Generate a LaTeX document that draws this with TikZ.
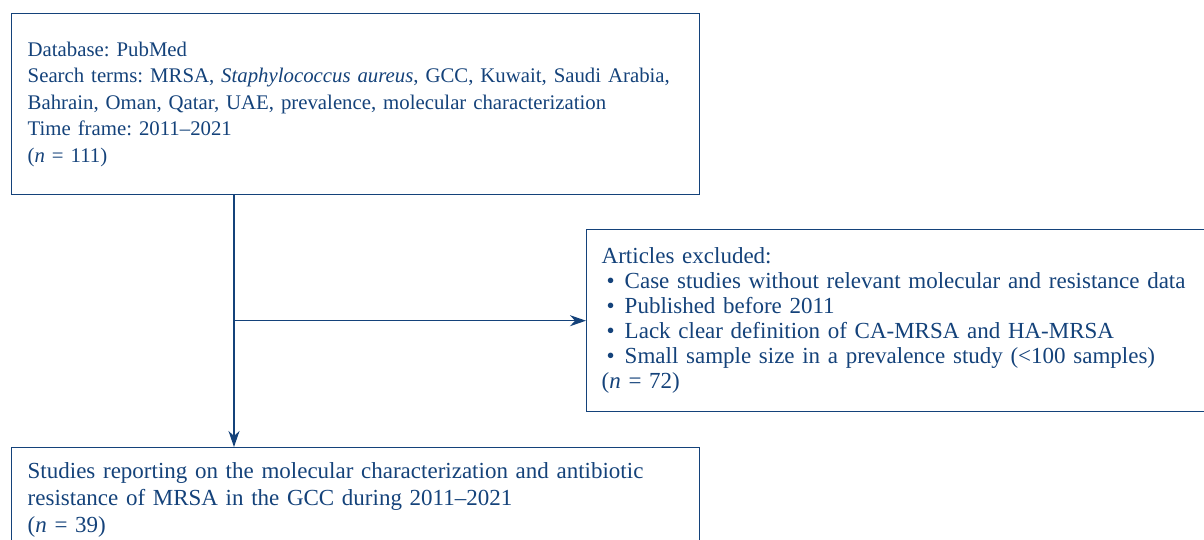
\documentclass[tikz,border=0pt]{standalone}
\usepackage{fontspec}
\setmainfont{Liberation Serif}
\usetikzlibrary{arrows.meta}
\definecolor{navy}{RGB}{20,66,122}
\begin{document}
\frenchspacing
\begin{tikzpicture}[x=1pt,y=-1pt,
box/.style ={rectangle, draw=navy, line width=1.4pt, text=navy,
  align=left, anchor=north west, inner xsep=16pt,
  font=\fontsize{23}{27}\selectfont
},
arr/.style ={draw=navy, line width=1.4pt,
  -{Stealth[length=16pt,width=11pt,inset=5pt]}
}]
\useasboundingbox (0,0) rectangle (1204,540);
\clip (0,0) rectangle (1204,540);
\node (search) at (11,13) [box, text width=656pt, minimum height=181pt,
  font=\fontsize{20.8}{26.5}\selectfont]
  {Database: PubMed\\
   Search terms: MRSA, \textit{Staphylococcus aureus}, GCC, Kuwait, Saudi Arabia,\\
   Bahrain, Oman, Qatar, UAE, prevalence, molecular characterization\\
   Time frame: 2011--2021\\
   (\textit{n} = 111)};
\node (excl) at (586,229) [box, inner xsep=15pt, text width=700pt, minimum height=182pt,
  font=\fontsize{23}{25}\selectfont]
  {Articles excluded:\\
   \hspace{5pt}\textbullet\hspace{10pt}Case studies without relevant molecular and resistance data\\
   \hspace{5pt}\textbullet\hspace{10pt}Published before 2011\\
   \hspace{5pt}\textbullet\hspace{10pt}Lack clear definition of CA-MRSA and HA-MRSA\\
   \hspace{5pt}\textbullet\hspace{10pt}Small sample size in a prevalence study (<100 samples)\\
   (\textit{n} = 72)};
\node (incl) at (11,447) [box, text width=656pt, inner ysep=15pt]
  {Studies reporting on the molecular characterization and antibiotic\\
   resistance of MRSA in the GCC during 2011--2021\\
   (\textit{n} = 39)};
\coordinate (split) at ([xshift=223pt]search.south west);
\draw[arr] (split) -- (split |- incl.north);
\draw[arr] (split |- excl.west) -- (excl.west);
\end{tikzpicture}
\end{document}
